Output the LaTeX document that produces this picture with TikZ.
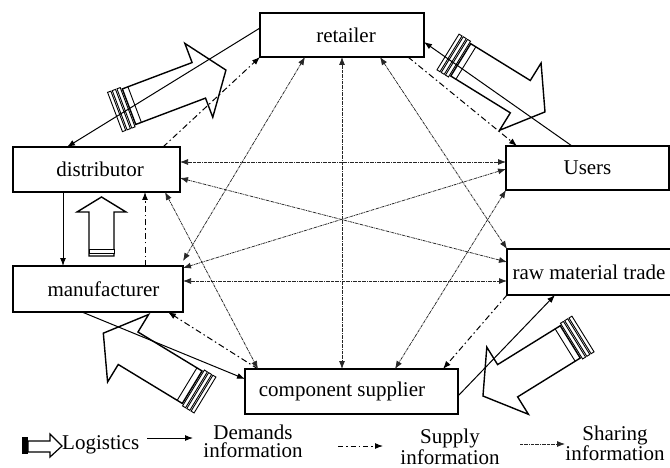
\documentclass[tikz,border=0pt]{standalone}
\usepackage{fontspec}
\setmainfont{Liberation Serif}
\usetikzlibrary{arrows.meta,calc}
\tikzset{
  box/.style={draw,line width=1.2pt,rectangle,inner sep=0pt,outer sep=0pt,fill=white},
  demand/.style={line width=1pt,-{Latex[length=8pt,width=6pt]}},
  supply/.style={line width=1pt,dash pattern=on 6pt off 3pt on 1.5pt off 3pt,-{Latex[length=8pt,width=6pt]}},
  sharing/.style={line width=0.75pt,black!85,dash pattern=on 3pt off 0.8pt on 0.8pt off 0.8pt,{Latex[length=8pt,width=6pt]}-{Latex[length=8pt,width=6pt]}},
  logi/.style={line width=1.4pt,fill=white,line join=miter},
  band/.style={line width=0.9pt,fill=white},
  legtext/.style={inner sep=0pt,anchor=north,align=center},
}
\newcommand{\logarrow}[4]{%
  \begin{scope}[shift={(#1,#2)},rotate=#3]
    \draw[logi] (15,-19) -- ({#4-29},-19) -- ({#4-29},-39.5) -- (#4,0) -- ({#4-29},39.5) -- ({#4-29},19) -- (15,19) -- cycle;
    \draw[line width=0.9pt] (21,-19) -- (21,19);
    \foreach \s in {0,5,10} \draw[band] (\s,-21) rectangle ({\s+3.5},21);
  \end{scope}}
\begin{document}
\begin{tikzpicture}[x=1pt,y=-1pt,font=\fontsize{21}{24}\selectfont]
\useasboundingbox (0,0) rectangle (670,468);
\fill[white] (0,0) rectangle (670,468);

% logistics arrows
\logarrow{115}{112}{20.7}{118.6}
\logarrow{448}{52}{-31.7}{114}
\logarrow{205}{395}{148.7}{119}
\logarrow{583}{334}{211.8}{117.7}
\begin{scope}[shift={(101.5,256)},rotate=90]
  \draw[logi] (0,-12.5) -- (44,-12.5) -- (44,-24.5) -- (59,0) -- (44,24.5) -- (44,12.5) -- (0,12.5) -- cycle;
  \draw[band] (3,-12.5) rectangle (7,12.5);
\end{scope}

% boxes
\node[box,minimum width=164pt,minimum height=44pt] (ret) at (342,35) {\hspace*{8pt}retailer};
\node[box,minimum width=167pt,minimum height=45pt] (dis) at (96.5,169.5) {\hspace*{7pt}distributor};
\node[box,minimum width=170pt,minimum height=46pt] (man) at (98,289) {\hspace*{11pt}manufacturer};
\node[box,minimum width=213pt,minimum height=45pt] (com) at (351.5,391.5) {component supplier\hspace*{19pt}};
\node[box,minimum width=163pt,minimum height=44pt] (usr) at (587.5,168) {Users};
\node[box,minimum width=164pt,minimum height=46pt] (raw) at (589,272) {raw material trade};

% demands information
\draw[demand] ($(ret.north west)+(0,15)$) -- ($(dis.north west)+(54,0)$);
\draw[demand] ($(usr.north west)+(66,0)$) -- ($(ret.north east)+(0,29)$);
\draw[demand] ($(dis.south west)+(50,0)$) -- ($(man.north west)+(50,0)$);
\draw[demand] ($(man.south west)+(69,0)$) -- ($(com.north west)+(0,10)$);
\draw[demand] ($(com.north east)+(0,27)$) -- ($(raw.south west)+(48,0)$);

% supply information
\draw[supply] ($(dis.north west)+(150,0)$) -- (ret.south west);
\draw[supply] ($(ret.south west)+(148,0)$) -- ($(usr.north west)+(11,0)$);
\draw[supply] ($(man.north west)+(132,0)$) -- ($(dis.south west)+(132,0)$);
\draw[supply] ($(com.north west)+(13,0)$) -- ($(man.south east)+(-15,0)$);
\draw[supply] (raw.south west) -- ($(com.north west)+(198,0)$);

% sharing information
\draw[sharing] ($(dis.north east)+(0,15)$) -- ($(usr.north west)+(0,16)$);
\draw[sharing] ($(dis.north east)+(0,31)$) -- ($(raw.north west)+(0,13)$);
\draw[sharing] ($(man.north east)+(0,2)$) -- ($(usr.north west)+(0,23)$);
\draw[sharing] ($(man.north east)+(0,15)$) -- ($(raw.north west)+(0,32)$);
\draw[sharing] ($(ret.south west)+(82,0)$) -- ($(com.north west)+(97,0)$);
\draw[sharing] ($(ret.south west)+(45,0)$) -- ($(man.north east)+(0,-5)$);
\draw[sharing] ($(ret.south west)+(120,0)$) -- (raw.north west);
\draw[sharing] ($(dis.south east)+(-15,0)$) -- ($(com.north west)+(13,0)$);
\draw[sharing] (usr.south west) -- ($(com.north west)+(150,0)$);

% legend
\fill (22,437) rectangle (28,454);
\draw[line width=1.2pt,fill=white] (28,441) -- (50,441) -- (50,434) -- (62,446) -- (50,457) -- (50,452) -- (28,452) -- cycle;
\node[inner sep=0pt,anchor=base west] (lgl) at (62,449) {Logistics};
\coordinate (d1) at (147,438); \coordinate (d2) at (193,438);
\draw[demand] (d1) -- (d2);
\node[legtext,font=\fontsize{21}{18}\selectfont] (lgd) at (253,424.5) {Demands\\information};
\coordinate (s1) at (338,446); \coordinate (s2) at (383,446);
\draw[supply,dash pattern=on 5pt off 3pt on 1.5pt off 3pt] (s1) -- (s2);
\node[legtext,font=\fontsize{21}{18.5}\selectfont] (lgs) at (450,429) {Supply\\information};
\coordinate (h1) at (520,444); \coordinate (h2) at (565,444);
\draw[sharing,-{Latex[length=8pt,width=6pt]}] (h1) -- (h2);
\node[legtext,font=\fontsize{21}{17}\selectfont] (lgh) at (615,425.5) {Sharing\\information};
\end{tikzpicture}
\end{document}
